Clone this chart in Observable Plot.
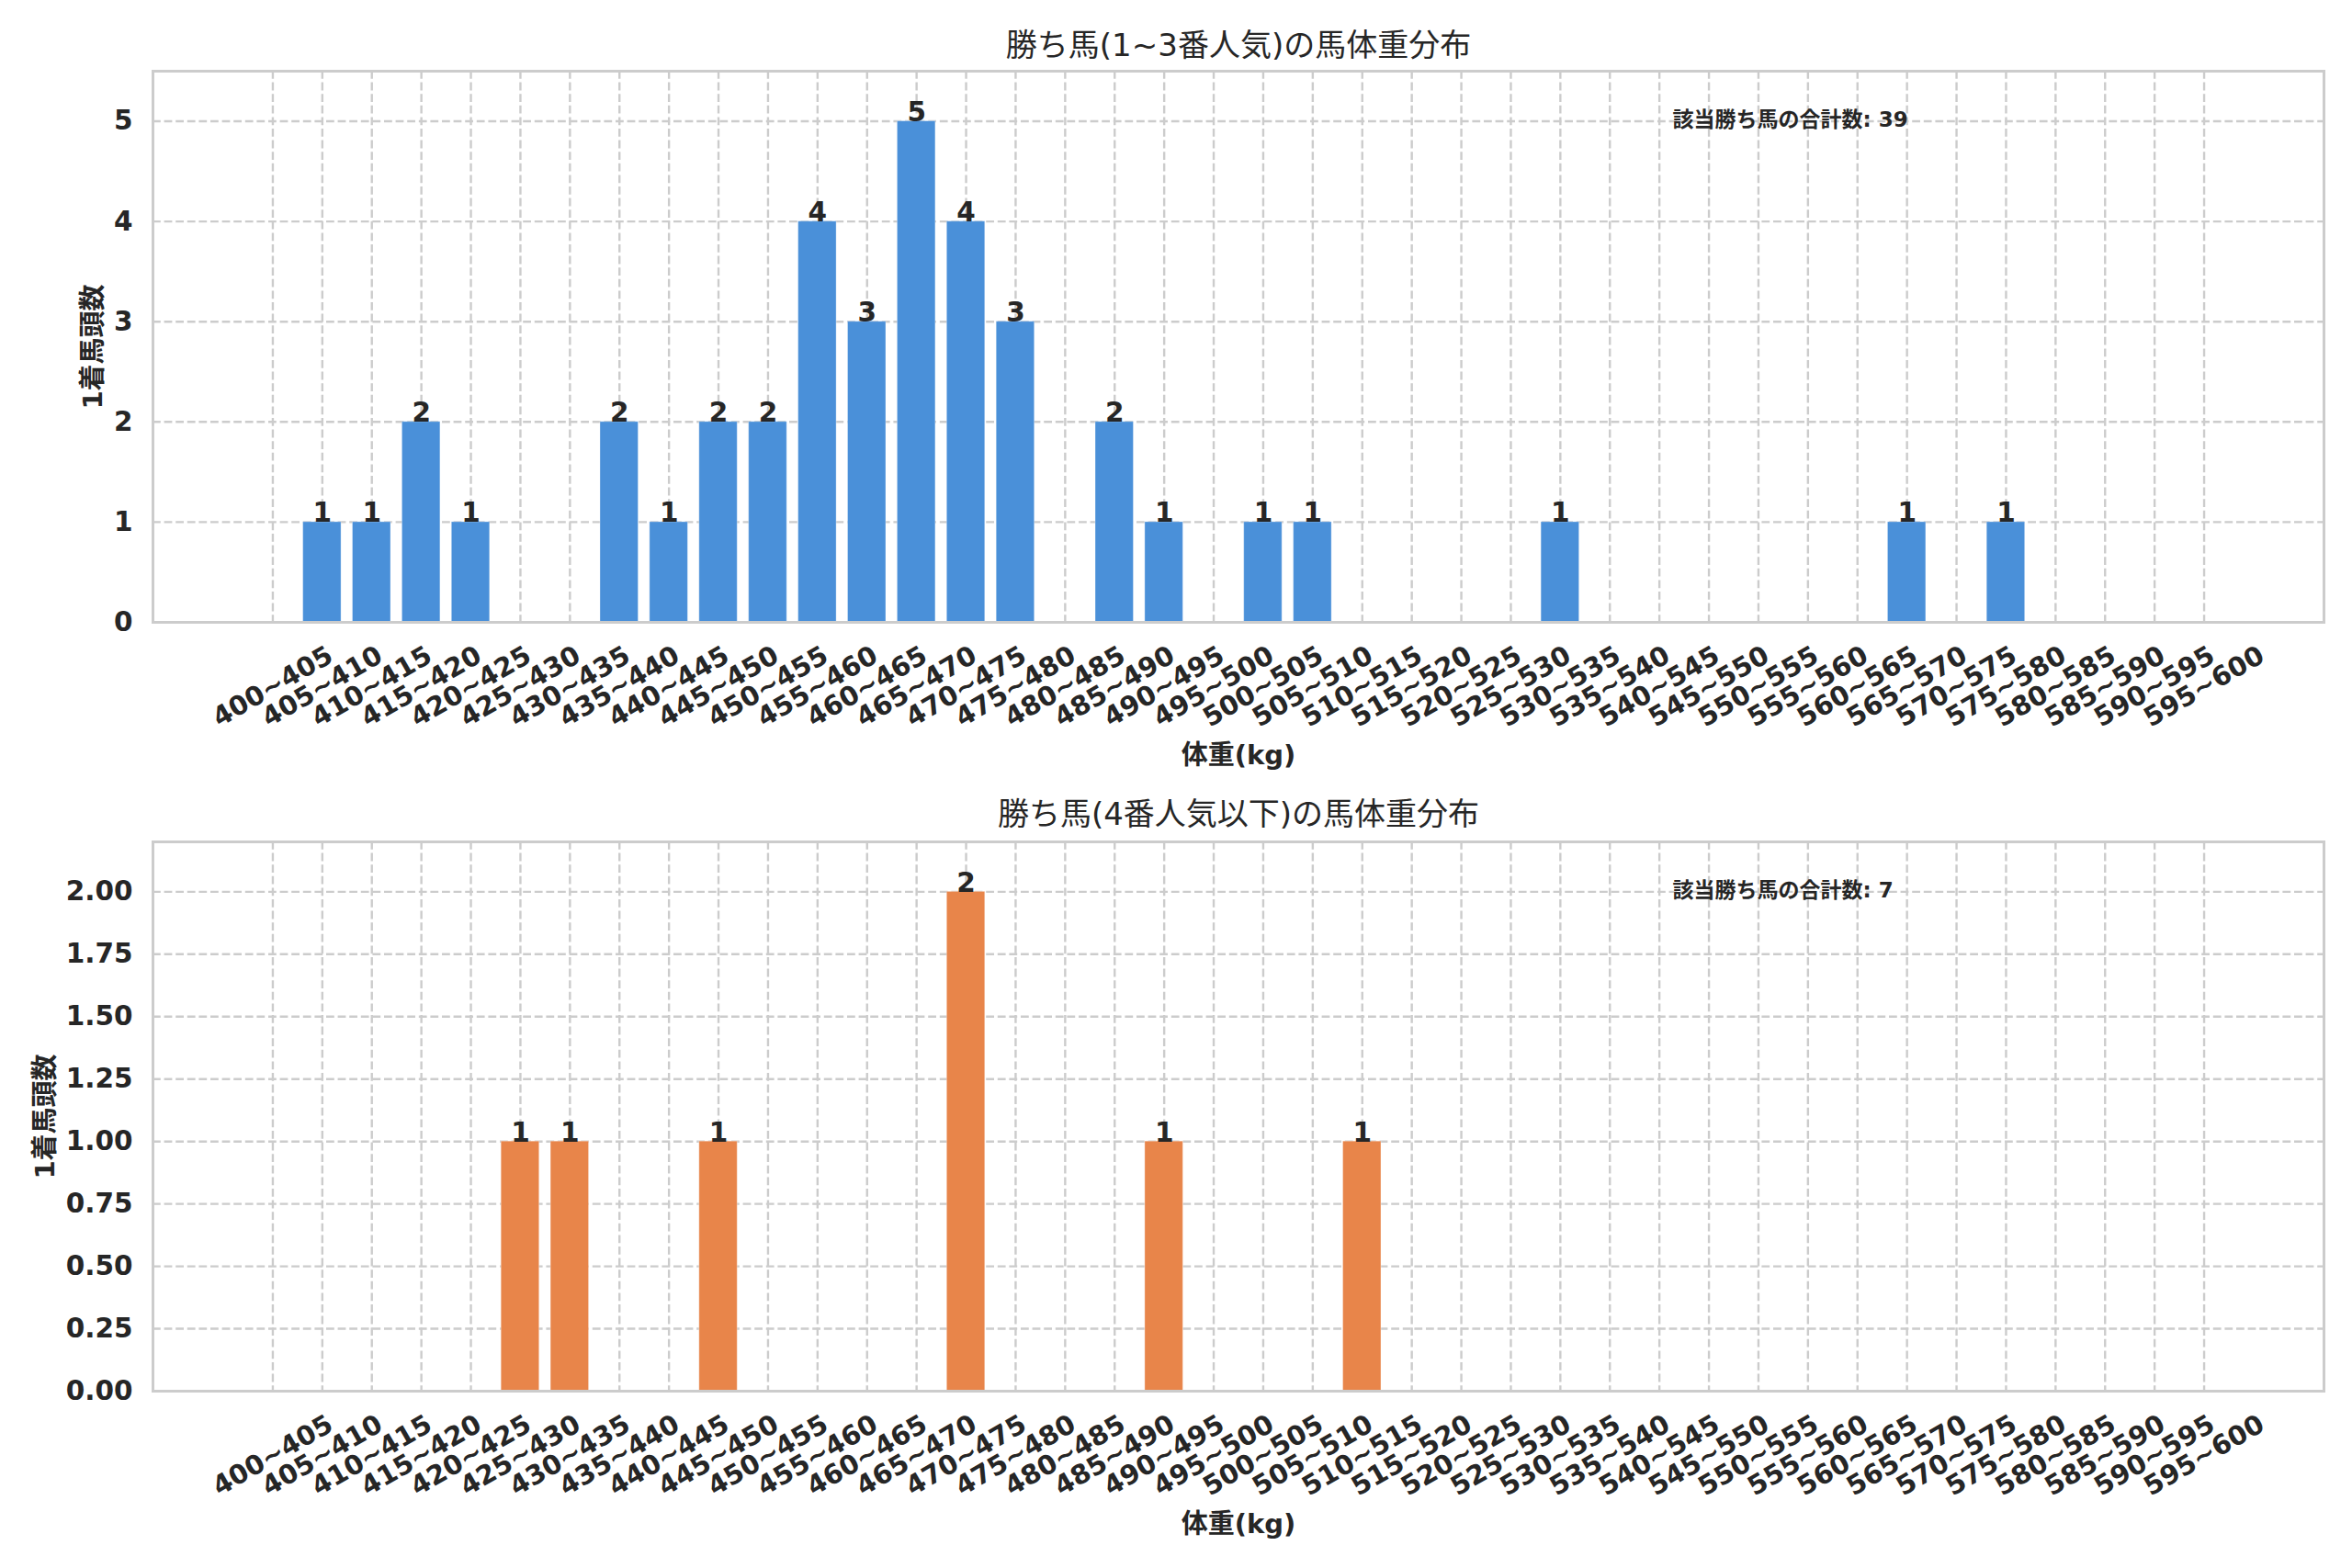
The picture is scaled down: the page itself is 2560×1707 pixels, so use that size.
<!DOCTYPE html>
<html>
<head>
<meta charset="utf-8">
<script src="https://cdn.jsdelivr.net/npm/d3@7"></script>
<script src="https://cdn.jsdelivr.net/npm/@observablehq/plot@0.6"></script>
<style>
html, body { margin: 0; padding: 0; background: #ffffff; }
#chart { width: 2560px; height: 1707px; position: relative; background: #ffffff; }
#chart svg { display: block; }
</style>
</head>
<body>
<div id="chart"></div>
<script>
const categories = [
  "400~405","405~410","410~415","415~420","420~425","425~430","430~435","435~440",
  "440~445","445~450","450~455","455~460","460~465","465~470","470~475","475~480",
  "480~485","485~490","490~495","495~500","500~505","505~510","510~515","515~520",
  "520~525","525~530","530~535","535~540","540~545","545~550","550~555","555~560",
  "560~565","565~570","570~575","575~580","580~585","585~590","590~595","595~600"
];
const countsTop = [
  0,1,1,2,1,0,0,2, 1,2,2,4,3,5,4,3, 0,2,1,0,1,1,0,0, 0,0,1,0,0,0,0,0, 0,1,0,1,0,0,0,0
];
const countsBottom = [
  0,0,0,0,0,1,1,0, 0,1,0,0,0,0,2,0, 0,0,1,0,0,0,1,0, 0,0,0,0,0,0,0,0, 0,0,0,0,0,0,0,0
];
const yTicksTop = [0, 1, 2, 3, 4, 5];
const yTicksBottom = [0, 0.25, 0.5, 0.75, 1, 1.25, 1.5, 1.75, 2];
const titleTop = "勝ち馬(1~3番人気)の馬体重分布";
const titleBottom = "勝ち馬(4番人気以下)の馬体重分布";
const yLabel = "1着馬頭数";
const xLabel = "体重(kg)";
const noteLabel = "該当勝ち馬の合計数";
const colorTop = "#4a90d9";
const colorBottom = "#e8854a";

const FONT = '"DejaVu Sans", "Noto Sans CJK JP", sans-serif';
const TEXT = "#262626";
const GRID = "#cccccc";
const W = 2560, ML = 166, MR = 31;

function panel({counts, color, title, ticks, tickFormat, height, marginTop, marginBottom, titleDy, ylabelX}) {
  const data = categories.map((c, i) => ({i, c, n: counts[i]}));
  const total = d3.sum(counts);
  const ymax = d3.max(counts) * 1.1;
  const pad = 2.42;
  const half = 0.385;
  const plotW = W - ML - MR;
  return Plot.plot({
    width: W, height, marginLeft: ML, marginRight: MR, marginTop, marginBottom,
    style: {fontFamily: FONT, color: TEXT, background: "#ffffff", overflow: "visible"},
    x: {type: "linear", domain: [-pad, categories.length - 1 + pad], axis: null},
    y: {domain: [0, ymax], axis: null},
    marks: [
      Plot.gridX(data.map(d => d.i), {stroke: GRID, strokeOpacity: 1, strokeWidth: 2.4, strokeDasharray: "8.8,3.8"}),
      Plot.gridY(ticks, {stroke: GRID, strokeOpacity: 1, strokeWidth: 2.4, strokeDasharray: "8.8,3.8"}),
      Plot.rect(data.filter(d => d.n > 0), {
        x1: d => d.i - half, x2: d => d.i + half, y1: 0, y2: "n",
        fill: color, stroke: "#ffffff", strokeOpacity: 0.35, strokeWidth: 1
      }),
      Plot.text(data.filter(d => d.n > 0), {
        x: "i", y: "n", text: d => String(d.n), lineAnchor: "bottom",
        fontSize: 29.5, fontWeight: "bold", fill: TEXT
      }),
      Plot.axisY(ticks, {tickSize: 0, tickPadding: 22, fontSize: 29.5, fontWeight: "bold", tickFormat, label: null, fill: TEXT}),
      Plot.text(data, {
        x: "i", text: "c", frameAnchor: "bottom", dy: 70, rotate: -30,
        textAnchor: "middle", lineAnchor: "middle", fontSize: 29, fontWeight: "bold", fill: TEXT
      }),
      Plot.text([xLabel], {text: d => d, frameAnchor: "bottom", dy: 145, lineAnchor: "middle", fontSize: 29, fontWeight: "bold", fill: TEXT}),
      Plot.text([yLabel], {text: d => d, frameAnchor: "left", dx: ylabelX - ML, rotate: -90, textAnchor: "middle", lineAnchor: "middle", fontSize: 29, fontWeight: "bold", fill: TEXT}),
      Plot.text([title], {text: d => d, frameAnchor: "top", dy: titleDy, lineAnchor: "middle", fontSize: 34, fill: TEXT}),
      Plot.text([`${noteLabel}: ${total}`], {
        text: d => d, frameAnchor: "top-left", dx: 0.7 * plotW, dy: 60,
        textAnchor: "start", lineAnchor: "bottom", fontSize: 23, fontWeight: "bold", fill: TEXT
      }),
      Plot.frame({stroke: GRID, strokeWidth: 3})
    ]
  });
}

const chart = document.getElementById("chart");
chart.append(panel({
  counts: countsTop, color: colorTop, title: titleTop, ticks: yTicksTop,
  tickFormat: d3.format("d"), height: 853, marginTop: 77, marginBottom: 176,
  titleDy: -27, ylabelX: 101
}));
chart.append(panel({
  counts: countsBottom, color: colorBottom, title: titleBottom, ticks: yTicksBottom,
  tickFormat: d3.format(".2f"), height: 854, marginTop: 63, marginBottom: 193,
  titleDy: -29, ylabelX: 49
}));
</script>
</body>
</html>
